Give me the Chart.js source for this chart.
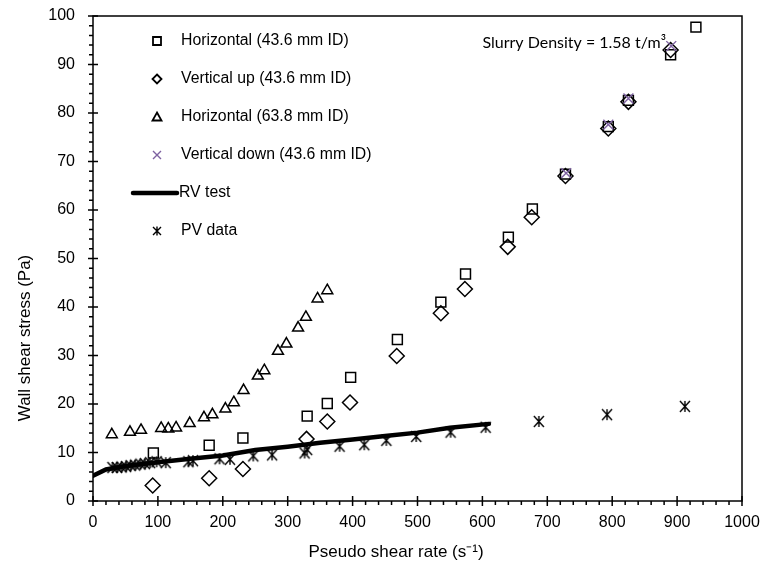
<!DOCTYPE html>
<html><head><meta charset="utf-8">
<script src="https://cdn.jsdelivr.net/npm/chart.js@4"></script>
<style>html,body{margin:0;padding:0;background:#fff}</style>
</head><body>
<canvas id="c" width="763" height="565"></canvas>
<script>
// ---- data ----
const xTicks = [0,100,200,300,400,500,600,700,800,900,1000];
const yTicks = [0,10,20,30,40,50,60,70,80,90,100];

const h436X = [93,179,231,330,361,397,469,536,574,640,677,728,794,825,890,929];
const h436Y = [9.9,11.5,13.0,17.5,20.1,25.5,33.3,41.0,46.8,54.4,60.2,67.4,77.2,82.6,92.0,97.7];

const vupX = [92,179,231,329,361,396,468,536,573,639,676,728,794,825,890];
const vupY = [3.2,4.7,6.6,12.8,16.4,20.3,29.9,38.7,43.7,52.4,58.5,67.0,76.8,82.3,93.0];

const h638X = [29,57,74,105,116,128,149,171,184,204,217,232,254,264,285,298,316,328,346,361];
const h638Y = [13.7,14.2,14.6,15.0,14.9,15.1,16.0,17.2,17.8,19.0,20.3,22.8,25.8,26.9,30.9,32.4,35.7,37.9,41.7,43.4];

const vdnX = [729,794,825,891];
const vdnY = [67.6,77.6,83.0,93.8];

const rvX = [0,20,50,100,150,200,250,300,350,400,450,500,550,610];
const rvY = [5.2,6.5,7.2,8.0,8.7,9.4,10.5,11.2,12.0,12.7,13.4,14.1,15.1,15.9];

const pvX = [30,37,44,51,58,65,73,80,88,98,112,147,154,195,211,247,276,326,330,380,418,452,498,551,605,687,792,912];
const pvY = [6.9,6.9,7.0,7.1,7.3,7.4,7.6,7.7,7.9,8.1,7.9,8.1,8.3,8.7,8.6,9.3,9.5,9.9,10.6,11.3,11.6,12.5,13.3,14.2,15.2,16.4,17.8,19.5];

const seriesNames = ['Horizontal (43.6 mm ID)','Vertical up (43.6 mm ID)','Horizontal (63.8 mm ID)','Vertical down (43.6 mm ID)','RV test','PV data'];
const annotation = 'Slurry Density = 1.58 t/m³';
const xTitle = 'Pseudo shear rate (s⁻¹)';
const yTitle = 'Wall shear stress (Pa)';

const pts = (xs, ys) => xs.map((v,i)=>({x:v, y:ys[i]}));
const PURPLE = '#7E62A1';
const FONT = '"Liberation Sans", Arial, sans-serif';

function makeAsterisk(hw, hh, lw){
  const c = document.createElement('canvas');
  c.width = Math.ceil(hw*2+4); c.height = Math.ceil(hh*2+4);
  const g = c.getContext('2d');
  const cx = c.width/2, cy = c.height/2;
  g.strokeStyle = '#000'; g.lineWidth = lw;
  g.beginPath();
  g.moveTo(cx-hw, cy-hh); g.lineTo(cx+hw, cy+hh);
  g.moveTo(cx+hw, cy-hh); g.lineTo(cx-hw, cy+hh);
  g.moveTo(cx, cy-hh); g.lineTo(cx, cy+hh);
  g.stroke();
  return c;
}
const asterisk = makeAsterisk(5, 5.5, 1.4);

function drawShape(ctx, kind, x, y){
  ctx.save();
  ctx.lineWidth = 1.8; ctx.strokeStyle = '#000';
  ctx.beginPath();
  if (kind==='square'){ ctx.rect(x-4, y-4, 8, 8); }
  else if (kind==='diamond'){ ctx.moveTo(x, y-4.5); ctx.lineTo(x+4.5, y); ctx.lineTo(x, y+4.5); ctx.lineTo(x-4.5, y); ctx.closePath(); }
  else if (kind==='triangle'){ ctx.moveTo(x, y-4.5); ctx.lineTo(x+4.5, y+3.5); ctx.lineTo(x-4.5, y+3.5); ctx.closePath(); }
  else if (kind==='x'){ ctx.strokeStyle = PURPLE; ctx.lineWidth=1.4; ctx.moveTo(x-4,y-4); ctx.lineTo(x+4,y+4); ctx.moveTo(x+4,y-4); ctx.lineTo(x-4,y+4); }
  else if (kind==='line'){ ctx.lineWidth = 4.5; ctx.lineCap='round'; ctx.moveTo(x-23, y); ctx.lineTo(x+21, y); }
  else if (kind==='ast'){ ctx.lineWidth=1.4; ctx.moveTo(x-4,y-4); ctx.lineTo(x+4,y+4); ctx.moveTo(x+4,y-4); ctx.lineTo(x-4,y+4); ctx.moveTo(x,y-4.5); ctx.lineTo(x,y+4.5); }
  ctx.stroke();
  ctx.restore();
}

const legendKinds = ['square','diamond','triangle','x','line','ast'];
const legendRowY = [41, 79, 117, 155, 193, 231];

const decor = {
  id: 'decor',
  afterDraw(chart){
    const {ctx, chartArea:a, scales:{x, y}} = chart;
    ctx.save();
    ctx.strokeStyle = '#000'; ctx.lineWidth = 1.5;
    ctx.strokeRect(a.left, a.top, a.right-a.left, a.bottom-a.top);
    ctx.beginPath();
    for (let v=0; v<=1000; v+=20){
      const px = x.getPixelForValue(v);
      const major = v % 100 === 0;
      ctx.moveTo(px, major ? a.bottom-5 : a.bottom);
      ctx.lineTo(px, a.bottom + (major ? 5 : 4));
    }
    for (let v=0; v<=100; v+=2){
      const py = y.getPixelForValue(v);
      const major = v % 10 === 0;
      ctx.moveTo(a.left - (major ? 5 : 4), py);
      ctx.lineTo(major ? a.left+5 : a.left, py);
    }
    ctx.stroke();
    ctx.fillStyle = '#000';
    // legend
    ctx.font = '15.8px ' + FONT;
    ctx.textBaseline = 'middle';
    ctx.textAlign = 'left';
    for (let i=0;i<seriesNames.length;i++){
      const ly = legendRowY[i];
      if (legendKinds[i]==='line'){
        drawShape(ctx, 'line', 156, ly);
        ctx.fillText(seriesNames[i], 179, ly);
      } else {
        drawShape(ctx, legendKinds[i], 157, ly);
        ctx.fillText(seriesNames[i], 181, ly);
      }
    }
    // axis titles
    ctx.font = '17px ' + FONT;
    ctx.textAlign = 'center';
    ctx.fillText(xTitle, 396, 552);
    ctx.save();
    ctx.translate(25, 338);
    ctx.rotate(-Math.PI/2);
    ctx.fillText(yTitle, 0, 0);
    ctx.restore();
    // annotation
    ctx.font = '16px Lato, "Open Sans", sans-serif';
    ctx.textAlign = 'left';
    ctx.textBaseline = 'alphabetic';
    ctx.fillText(annotation, x.getPixelForValue(600), y.getPixelForValue(93.5));
    ctx.restore();
  }
};

Chart.defaults.font.family = FONT;
Chart.defaults.font.size = 16;
Chart.defaults.color = '#000';

const zeroPad = s => { s.paddingTop = 0; s.paddingBottom = 0; s.paddingLeft = 0; s.paddingRight = 0; };

new Chart(document.getElementById('c'), {
  type: 'scatter',
  data: {
    datasets: [
      {label: seriesNames[0], data: pts(h436X,h436Y), pointStyle:'rect', pointRadius:7, borderColor:'#000', backgroundColor:'rgba(0,0,0,0)', borderWidth:1.5, order:5},
      {label: seriesNames[1], data: pts(vupX,vupY), pointStyle:'rectRot', pointRadius:7.5, borderColor:'#000', backgroundColor:'rgba(0,0,0,0)', borderWidth:1.5, order:4},
      {label: seriesNames[2], data: pts(h638X,h638Y), pointStyle:'triangle', pointRadius:6.3, borderColor:'#000', backgroundColor:'rgba(0,0,0,0)', borderWidth:1.5, order:3},
      {label: seriesNames[3], data: pts(vdnX,vdnY), pointStyle:'crossRot', pointRadius:7, borderColor:PURPLE, backgroundColor:PURPLE, borderWidth:1.4, order:2},
      {label: seriesNames[4], type:'line', data: pts(rvX,rvY), showLine:true, pointRadius:0, borderColor:'#000', borderWidth:4.5, tension:0, fill:false, borderCapStyle:'round', order:1},
      {label: seriesNames[5], data: pts(pvX,pvY), pointStyle:asterisk, pointRadius:6, borderColor:'#000', backgroundColor:'#000', order:0}
    ]
  },
  options: {
    responsive: false,
    animation: false,
    devicePixelRatio: 1,
    layout: {padding: {top: 16, right: 21, left: 0, bottom: 0}},
    plugins: {legend: {display:false}, tooltip: {enabled:false}},
    scales: {
      x: {
        type: 'linear', min: 0, max: 1000,
        afterBuildTicks: s => { s.ticks = xTicks.map(v=>({value:v})); },
        afterFit: s => { s.height = 64; zeroPad(s); },
        grid: {display:false, drawTicks:false},
        border: {display:false},
        ticks: {padding: 12, maxRotation:0, autoSkip:false, font:{size:16}, callback: v => String(v)},
        title: {display:false}
      },
      y: {
        type: 'linear', min: 0, max: 100,
        afterBuildTicks: s => { s.ticks = yTicks.map(v=>({value:v})); },
        afterFit: s => { s.width = 93; zeroPad(s); },
        grid: {display:false, drawTicks:false},
        border: {display:false},
        ticks: {padding: 18, autoSkip:false, font:{size:16}, callback: v => String(v)},
        title: {display:false}
      }
    }
  },
  plugins: [decor]
});
</script>
</body></html>
